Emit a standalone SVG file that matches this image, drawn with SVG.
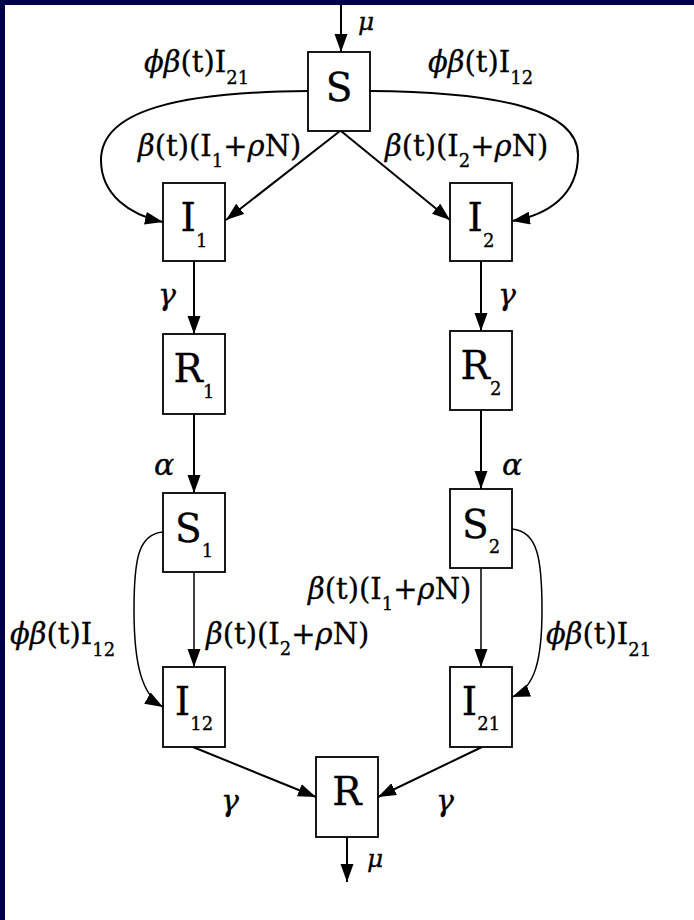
<svg xmlns="http://www.w3.org/2000/svg" width="694" height="920" viewBox="0 0 694 920">
<style>
.box{fill:#fff;stroke:#000;stroke-width:1.8}
.ln{fill:none;stroke:#000;stroke-width:2}
.thin{stroke-width:1.5}
.node{font-family:"DejaVu Serif","Liberation Serif",serif;font-size:39px;fill:#000;stroke:#000;stroke-width:0.3}
.nsub{font-size:18px}
.lbl{font-family:"DejaVu Serif","Liberation Serif",serif;font-size:29px;fill:#000;stroke:#000;stroke-width:0.3}
.g{font-style:italic}
.sub{font-size:18px}
</style>
<defs>
<marker id="ah" markerUnits="userSpaceOnUse" markerWidth="20" markerHeight="14" refX="18" refY="6.5" orient="auto">
<path d="M0,0 L18,6.5 L0,13 z" fill="#000"/>
</marker>
</defs>
<rect x="0" y="0" width="694" height="920" fill="#fff"/>
<rect x="0" y="0" width="694" height="5" fill="#00004a"/>
<rect x="0" y="0" width="5" height="920" fill="#00004a"/>

<g id="connectors">
<line class="ln" x1="341" y1="5" x2="341" y2="52" marker-end="url(#ah)"/>
<path class="ln" d="M308,91 C180,92 101,110 101,160 C101,195 130,215 163,222" marker-end="url(#ah)"/>
<path class="ln" d="M370,91 C500,92 578,110 578,155 C578,195 548,215 512,221" marker-end="url(#ah)"/>
<line class="ln" x1="340" y1="131" x2="226" y2="220" marker-end="url(#ah)"/>
<line class="ln" x1="341" y1="131" x2="450" y2="220" marker-end="url(#ah)"/>
<line class="ln" x1="194" y1="261" x2="194" y2="334" marker-end="url(#ah)"/>
<line class="ln" x1="481" y1="261" x2="481" y2="331" marker-end="url(#ah)"/>
<line class="ln" x1="194" y1="414" x2="194" y2="493" marker-end="url(#ah)"/>
<line class="ln" x1="481" y1="410" x2="481" y2="489" marker-end="url(#ah)"/>
<line class="ln thin" x1="194" y1="572" x2="194" y2="667" marker-end="url(#ah)"/>
<line class="ln thin" x1="481" y1="568" x2="481" y2="667" marker-end="url(#ah)"/>
<path class="ln thin" d="M163,532 C138,534 134,560 134,610 C134,665 142,695 163,707" marker-end="url(#ah)"/>
<path class="ln thin" d="M512,529 C538,531 542,560 542,610 C542,660 535,688 512,697" marker-end="url(#ah)"/>
<line class="ln" x1="193" y1="747" x2="316" y2="797" marker-end="url(#ah)"/>
<line class="ln" x1="482" y1="747" x2="378" y2="797" marker-end="url(#ah)"/>
<line class="ln" x1="347" y1="837" x2="347" y2="882" marker-end="url(#ah)"/>
</g>

<g id="labels">
<text class="lbl g" x="358" y="30" style="font-size:25px">μ</text>
<text class="lbl" x="144" y="72"><tspan class="g">ϕβ</tspan>(t)I<tspan class="sub" dy="12">21</tspan></text>
<text class="lbl" x="428" y="72"><tspan class="g">ϕβ</tspan>(t)I<tspan class="sub" dy="12">12</tspan></text>
<text class="lbl" x="138" y="156"><tspan class="g">β</tspan>(t)(I<tspan class="sub" dy="11">1</tspan><tspan dy="-11">+</tspan><tspan class="g">ρ</tspan>N)</text>
<text class="lbl" x="385" y="156"><tspan class="g">β</tspan>(t)(I<tspan class="sub" dy="11">2</tspan><tspan dy="-11">+</tspan><tspan class="g">ρ</tspan>N)</text>
<text class="lbl g" x="158" y="305" style="font-size:30px">γ</text>
<text class="lbl g" x="498" y="305" style="font-size:30px">γ</text>
<text class="lbl g" x="154" y="475" style="font-size:30px">α</text>
<text class="lbl g" x="502" y="475" style="font-size:30px">α</text>
<text class="lbl" x="10" y="644"><tspan class="g">ϕβ</tspan>(t)I<tspan class="sub" dy="12">12</tspan></text>
<text class="lbl" x="206" y="644"><tspan class="g">β</tspan>(t)(I<tspan class="sub" dy="11">2</tspan><tspan dy="-11">+</tspan><tspan class="g">ρ</tspan>N)</text>
<text class="lbl" x="308" y="599"><tspan class="g">β</tspan>(t)(I<tspan class="sub" dy="11">1</tspan><tspan dy="-11">+</tspan><tspan class="g">ρ</tspan>N)</text>
<text class="lbl" x="546" y="644"><tspan class="g">ϕβ</tspan>(t)I<tspan class="sub" dy="12">21</tspan></text>
<text class="lbl g" x="221" y="811" style="font-size:30px">γ</text>
<text class="lbl g" x="436" y="811" style="font-size:30px">γ</text>
<text class="lbl g" x="367" y="867" style="font-size:25px">μ</text>
</g>

<g id="node-S"><rect class="box" x="308" y="52" width="62" height="79"/><text class="node" x="339" y="101" text-anchor="middle">S</text></g>
<g id="node-I1"><rect class="box" x="163" y="183" width="62" height="78"/><text class="node" x="194" y="231" text-anchor="middle">I<tspan class="nsub" dy="16">1</tspan></text></g>
<g id="node-I2"><rect class="box" x="450" y="183" width="62" height="78"/><text class="node" x="481" y="231" text-anchor="middle">I<tspan class="nsub" dy="16">2</tspan></text></g>
<g id="node-R1"><rect class="box" x="163" y="334" width="62" height="80"/><text class="node" x="194" y="382" text-anchor="middle">R<tspan class="nsub" dy="16">1</tspan></text></g>
<g id="node-R2"><rect class="box" x="450" y="331" width="62" height="79"/><text class="node" x="481" y="379" text-anchor="middle">R<tspan class="nsub" dy="16">2</tspan></text></g>
<g id="node-S1"><rect class="box" x="163" y="493" width="62" height="79"/><text class="node" x="194" y="542" text-anchor="middle">S<tspan class="nsub" dy="15">1</tspan></text></g>
<g id="node-S2"><rect class="box" x="450" y="489" width="62" height="79"/><text class="node" x="481" y="538" text-anchor="middle">S<tspan class="nsub" dy="15">2</tspan></text></g>
<g id="node-I12"><rect class="box" x="163" y="667" width="62" height="80"/><text class="node" x="194" y="715" text-anchor="middle">I<tspan class="nsub" dy="15">12</tspan></text></g>
<g id="node-I21"><rect class="box" x="450" y="667" width="62" height="80"/><text class="node" x="481" y="715" text-anchor="middle">I<tspan class="nsub" dy="15">21</tspan></text></g>
<g id="node-R"><rect class="box" x="316" y="757" width="62" height="80"/><text class="node" x="347" y="805" text-anchor="middle">R</text></g>
</svg>
